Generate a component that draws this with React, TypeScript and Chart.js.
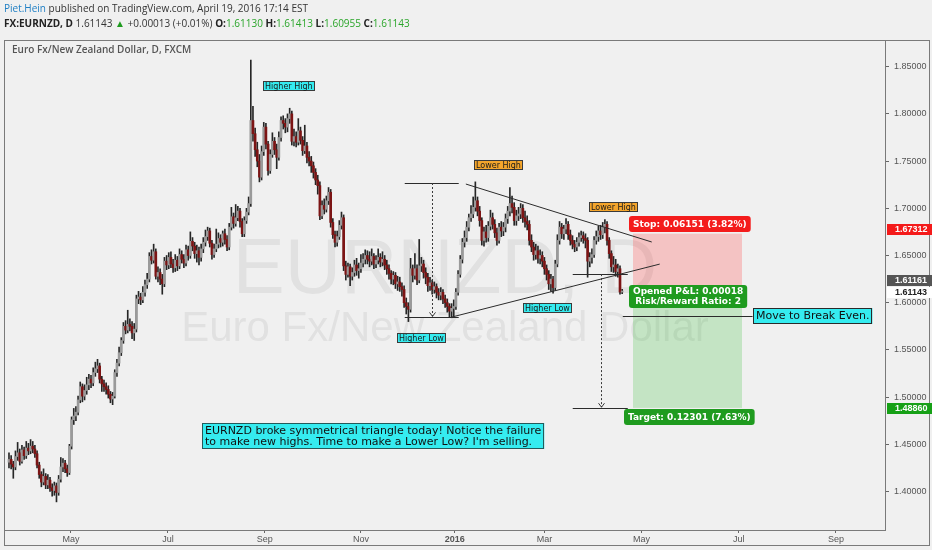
import React, { useEffect, useRef } from 'react';
import { Chart, registerables } from 'chart.js';

Chart.register(...registerables);

// ---- Daily EUR/NZD candles (index 0 = late Mar 2015 ... index 284 = Apr 19 2016) ----
const firstOpen = 1.431;
const closes = [
  1.434, 1.429, 1.426, 1.437, 1.441, 1.432, 1.444, 1.438, 1.446, 1.443,
  1.448, 1.445, 1.440, 1.428, 1.418, 1.410, 1.416, 1.407, 1.412, 1.404,
  1.401, 1.406, 1.399, 1.413, 1.426, 1.430, 1.424, 1.420, 1.448, 1.476,
  1.480, 1.484, 1.497, 1.511, 1.501, 1.507, 1.513, 1.519, 1.515, 1.526,
  1.530, 1.533, 1.519, 1.514, 1.511, 1.508, 1.503, 1.498, 1.501, 1.526,
  1.536, 1.547, 1.560, 1.575, 1.571, 1.577, 1.575, 1.568, 1.572, 1.604,
  1.606, 1.603, 1.611, 1.619, 1.625, 1.649, 1.645, 1.654, 1.628, 1.632,
  1.625, 1.620, 1.644, 1.640, 1.648, 1.641, 1.637, 1.645, 1.639, 1.651,
  1.646, 1.642, 1.656, 1.650, 1.665, 1.660, 1.652, 1.655, 1.648, 1.657,
  1.664, 1.670, 1.676, 1.663, 1.651, 1.657, 1.662, 1.668, 1.664, 1.673,
  1.667, 1.659, 1.680, 1.691, 1.684, 1.690, 1.697, 1.686, 1.673, 1.687,
  1.696, 1.705, 1.793, 1.779, 1.762, 1.750, 1.733, 1.760, 1.786, 1.768,
  1.740, 1.757, 1.771, 1.762, 1.754, 1.775, 1.793, 1.790, 1.786, 1.795,
  1.800, 1.771, 1.776, 1.770, 1.782, 1.772, 1.761, 1.766, 1.754, 1.750,
  1.745, 1.738, 1.730, 1.724, 1.692, 1.703, 1.699, 1.708, 1.717, 1.685,
  1.672, 1.664, 1.670, 1.682, 1.690, 1.639, 1.630, 1.638, 1.628, 1.632,
  1.640, 1.634, 1.636, 1.642, 1.646, 1.650, 1.646, 1.644, 1.649, 1.641,
  1.645, 1.648, 1.643, 1.646, 1.640, 1.636, 1.631, 1.625, 1.629, 1.620,
  1.622, 1.617, 1.614, 1.600, 1.596, 1.593, 1.636, 1.629, 1.636, 1.624,
  1.639, 1.641, 1.632, 1.627, 1.618, 1.621, 1.614, 1.617, 1.611, 1.608,
  1.611, 1.604, 1.600, 1.596, 1.591, 1.594, 1.596, 1.611, 1.630, 1.646,
  1.664, 1.669, 1.680, 1.690, 1.694, 1.701, 1.708, 1.697, 1.687, 1.666,
  1.675, 1.669, 1.681, 1.690, 1.683, 1.674, 1.666, 1.680, 1.676, 1.680,
  1.689, 1.697, 1.705, 1.701, 1.687, 1.692, 1.694, 1.700, 1.690, 1.686,
  1.683, 1.666, 1.659, 1.651, 1.655, 1.647, 1.650, 1.644, 1.636, 1.630,
  1.620, 1.625, 1.616, 1.641, 1.666, 1.680, 1.673, 1.678, 1.683, 1.672,
  1.666, 1.662, 1.659, 1.664, 1.669, 1.671, 1.668, 1.666, 1.644, 1.648,
  1.651, 1.666, 1.670, 1.676, 1.672, 1.680, 1.683, 1.666, 1.652, 1.638,
  1.640, 1.633, 1.636, 1.6113, 1.6114,
];
const highs = [
  1.441, 1.438, 1.432, 1.443, 1.452, 1.445, 1.449, 1.447, 1.453, 1.451,
  1.455, 1.453, 1.449, 1.443, 1.431, 1.421, 1.424, 1.419, 1.418, 1.415,
  1.408, 1.410, 1.409, 1.417, 1.436, 1.435, 1.433, 1.428, 1.450, 1.479,
  1.488, 1.490, 1.501, 1.516, 1.514, 1.513, 1.521, 1.524, 1.523, 1.531,
  1.537, 1.540, 1.536, 1.522, 1.518, 1.515, 1.512, 1.506, 1.505, 1.529,
  1.540, 1.553, 1.563, 1.579, 1.581, 1.592, 1.583, 1.580, 1.578, 1.608,
  1.612, 1.610, 1.617, 1.624, 1.631, 1.653, 1.656, 1.662, 1.657, 1.638,
  1.636, 1.630, 1.648, 1.650, 1.653, 1.654, 1.646, 1.651, 1.649, 1.657,
  1.655, 1.651, 1.661, 1.660, 1.675, 1.669, 1.664, 1.661, 1.659, 1.662,
  1.669, 1.677, 1.680, 1.679, 1.666, 1.662, 1.678, 1.674, 1.672, 1.676,
  1.678, 1.671, 1.684, 1.701, 1.695, 1.704, 1.702, 1.700, 1.689, 1.691,
  1.700, 1.712, 1.857, 1.808, 1.785, 1.770, 1.757, 1.766, 1.791, 1.790,
  1.771, 1.762, 1.780, 1.775, 1.768, 1.781, 1.797, 1.798, 1.795, 1.800,
  1.806, 1.803, 1.784, 1.781, 1.795, 1.786, 1.776, 1.788, 1.770, 1.760,
  1.755, 1.749, 1.742, 1.735, 1.728, 1.708, 1.710, 1.713, 1.722, 1.720,
  1.689, 1.676, 1.676, 1.687, 1.696, 1.693, 1.644, 1.642, 1.641, 1.637,
  1.645, 1.647, 1.642, 1.651, 1.652, 1.656, 1.655, 1.654, 1.657, 1.652,
  1.650, 1.657, 1.652, 1.654, 1.650, 1.645, 1.640, 1.634, 1.633, 1.632,
  1.628, 1.627, 1.621, 1.618, 1.605, 1.600, 1.647, 1.640, 1.652, 1.640,
  1.667, 1.648, 1.645, 1.637, 1.631, 1.627, 1.624, 1.622, 1.620, 1.615,
  1.616, 1.614, 1.608, 1.604, 1.599, 1.599, 1.603, 1.615, 1.634, 1.650,
  1.668, 1.676, 1.686, 1.694, 1.703, 1.712, 1.728, 1.712, 1.702, 1.690,
  1.680, 1.682, 1.686, 1.698, 1.695, 1.688, 1.679, 1.684, 1.686, 1.685,
  1.694, 1.702, 1.722, 1.713, 1.706, 1.698, 1.701, 1.705, 1.704, 1.697,
  1.692, 1.687, 1.672, 1.664, 1.662, 1.660, 1.656, 1.654, 1.648, 1.640,
  1.634, 1.630, 1.628, 1.645, 1.672, 1.686, 1.684, 1.682, 1.689, 1.686,
  1.677, 1.671, 1.666, 1.669, 1.674, 1.676, 1.675, 1.673, 1.669, 1.653,
  1.657, 1.670, 1.676, 1.681, 1.682, 1.685, 1.688, 1.686, 1.669, 1.655,
  1.649, 1.646, 1.641, 1.639, 1.6141,
];
const lows = [
  1.425, 1.424, 1.414, 1.423, 1.433, 1.428, 1.430, 1.434, 1.435, 1.439,
  1.440, 1.441, 1.436, 1.425, 1.414, 1.405, 1.407, 1.403, 1.403, 1.400,
  1.395, 1.396, 1.389, 1.396, 1.410, 1.421, 1.420, 1.416, 1.418, 1.445,
  1.471, 1.475, 1.481, 1.494, 1.495, 1.497, 1.503, 1.508, 1.510, 1.512,
  1.522, 1.526, 1.515, 1.506, 1.506, 1.503, 1.499, 1.494, 1.492, 1.499,
  1.522, 1.533, 1.544, 1.557, 1.567, 1.568, 1.570, 1.562, 1.560, 1.569,
  1.599, 1.598, 1.600, 1.607, 1.615, 1.622, 1.641, 1.642, 1.625, 1.622,
  1.619, 1.609, 1.617, 1.635, 1.636, 1.637, 1.632, 1.633, 1.634, 1.636,
  1.642, 1.637, 1.639, 1.645, 1.647, 1.655, 1.647, 1.643, 1.640, 1.644,
  1.653, 1.660, 1.666, 1.659, 1.646, 1.648, 1.654, 1.658, 1.659, 1.660,
  1.662, 1.655, 1.656, 1.677, 1.679, 1.681, 1.687, 1.680, 1.670, 1.670,
  1.684, 1.693, 1.702, 1.771, 1.755, 1.744, 1.728, 1.730, 1.756, 1.763,
  1.735, 1.737, 1.754, 1.757, 1.742, 1.751, 1.771, 1.784, 1.780, 1.781,
  1.790, 1.767, 1.766, 1.765, 1.767, 1.768, 1.756, 1.758, 1.748, 1.745,
  1.738, 1.732, 1.725, 1.715, 1.688, 1.689, 1.694, 1.696, 1.704, 1.680,
  1.668, 1.659, 1.660, 1.667, 1.678, 1.634, 1.624, 1.627, 1.618, 1.624,
  1.628, 1.629, 1.626, 1.632, 1.638, 1.641, 1.641, 1.638, 1.640, 1.636,
  1.637, 1.641, 1.638, 1.639, 1.635, 1.630, 1.625, 1.620, 1.619, 1.615,
  1.613, 1.612, 1.607, 1.595, 1.588, 1.580, 1.590, 1.622, 1.625, 1.619,
  1.621, 1.633, 1.626, 1.620, 1.612, 1.613, 1.609, 1.610, 1.605, 1.603,
  1.603, 1.599, 1.595, 1.590, 1.585, 1.584, 1.585, 1.593, 1.608, 1.627,
  1.642, 1.659, 1.665, 1.676, 1.686, 1.690, 1.697, 1.692, 1.681, 1.661,
  1.660, 1.664, 1.665, 1.677, 1.678, 1.669, 1.661, 1.663, 1.670, 1.671,
  1.675, 1.684, 1.692, 1.695, 1.682, 1.682, 1.687, 1.689, 1.685, 1.680,
  1.677, 1.661, 1.654, 1.645, 1.646, 1.642, 1.641, 1.638, 1.630, 1.624,
  1.614, 1.612, 1.610, 1.613, 1.638, 1.662, 1.668, 1.667, 1.673, 1.667,
  1.661, 1.657, 1.654, 1.655, 1.660, 1.665, 1.663, 1.658, 1.627, 1.638,
  1.642, 1.648, 1.662, 1.665, 1.667, 1.668, 1.674, 1.661, 1.647, 1.633,
  1.632, 1.628, 1.627, 1.609, 1.6096,
];

// ---- axes ----
const monthTickPos = [28.7, 73.6, 118.5, 163, 206.5, 248, 293, 338, 383];
const monthTickLabels = ['May', 'Jul', 'Sep', 'Nov', '2016', 'Mar', 'May', 'Jul', 'Sep'];
const priceTicks = [1.4, 1.45, 1.5, 1.55, 1.6, 1.65, 1.7, 1.75, 1.8, 1.85];

// ---- trade levels ----
const entryPrice = 1.61161;
const stopPrice = 1.67312;
const targetPrice = 1.4886;
const lastPrice = 1.61143;
const breakEvenPrice = 1.586;
const riskSpan = [288.9, 339.4];

// ---- drawings (bar index, price) ----
const trendLines = [
  [211.6, 1.7257, 297.7, 1.6643],
  [205.1, 1.5848, 301.4, 1.6409],
  [183.3, 1.7268, 208.3, 1.7268],
  [183.3, 1.5848, 208.3, 1.5848],
  [261.1, 1.6303, 286.6, 1.6303],
  [261.1, 1.4886, 286.6, 1.4886],
  [284.3, 1.586, 344.4, 1.586],
];
const dashedArrows = [
  [195.8, 1.7268, 1.5855],
  [274.1, 1.6303, 1.4893],
];
const tagLabels = [
  { text: 'Higher High', x: 129.4, y: 1.8296, kind: 'cyan' },
  { text: 'Lower High', x: 226.5, y: 1.7459, kind: 'orange' },
  { text: 'Lower High', x: 280.1, y: 1.7014, kind: 'orange' },
  { text: 'Higher Low', x: 191.0, y: 1.5627, kind: 'cyan' },
  { text: 'Higher Low', x: 249.5, y: 1.5943, kind: 'cyan' },
];
const commentLines = [
  'EURNZD broke symmetrical triangle today! Notice the failure',
  "to make new highs. Time to make a Lower Low? I'm selling.",
];
const commentAnchor = { x: 168.5, y: 1.4588 };
const breakEvenText = 'Move to Break Even.';
const stopText = 'Stop: 0.06151 (3.82%)';
const pnlLines = ['Opened P&L: 0.00018', 'Risk/Reward Ratio: 2'];
const targetText = 'Target: 0.12301 (7.63%)';
const stopLabelAt = { x: 315.3, y: 1.6834 };
const pnlLabelAt = { x: 314.4, y: 1.6066 };
const targetLabelAt = { x: 315.0, y: 1.479 };

const UP = '#9a9a9a';
const DOWN = '#7c1414';
const CYAN = '#35ecf0';
const ORANGE = '#f4a52c';
const GREEN = '#1f9b1f';
const RED = '#f41c1c';
const BG = '#f0f0f0';

function roundRect(ctx: CanvasRenderingContext2D, x: number, y: number, w: number, h: number, r: number) {
  ctx.beginPath();
  ctx.moveTo(x + r, y);
  ctx.lineTo(x + w - r, y);
  ctx.quadraticCurveTo(x + w, y, x + w, y + r);
  ctx.lineTo(x + w, y + h - r);
  ctx.quadraticCurveTo(x + w, y + h, x + w - r, y + h);
  ctx.lineTo(x + r, y + h);
  ctx.quadraticCurveTo(x, y + h, x, y + h - r);
  ctx.lineTo(x, y + r);
  ctx.quadraticCurveTo(x, y, x + r, y);
  ctx.closePath();
}

function drawBox(
  ctx: CanvasRenderingContext2D,
  lines: string[],
  cx: number,
  cy: number,
  o: { font: string; bg: string; fg: string; border?: string; padX: number; lineH: number; padY: number; radius?: number; leftAnchor?: boolean; align?: CanvasTextAlign }
) {
  ctx.font = o.font;
  const w = Math.max(...lines.map((l) => ctx.measureText(l).width)) + o.padX * 2;
  const h = lines.length * o.lineH + o.padY * 2;
  const x = Math.round(o.leftAnchor ? cx : cx - w / 2);
  const y = Math.round(cy - h / 2);
  ctx.fillStyle = o.bg;
  if (o.radius) {
    roundRect(ctx, x, y, w, h, o.radius);
    ctx.fill();
  } else {
    ctx.fillRect(x, y, w, h);
  }
  if (o.border) {
    ctx.strokeStyle = o.border;
    ctx.lineWidth = 1;
    ctx.strokeRect(x + 0.5, y + 0.5, Math.round(w) - 1, h - 1);
  }
  ctx.fillStyle = o.fg;
  ctx.textBaseline = 'middle';
  const align = o.align || 'center';
  ctx.textAlign = align;
  lines.forEach((l, i) => {
    const ty = y + o.padY + o.lineH * (i + 0.5) + 0.5;
    const tx = align === 'left' ? x + o.padX : x + w / 2;
    ctx.fillText(l, tx, ty);
  });
}

const drawingsPlugin = {
  id: 'drawings',
  beforeDatasetsDraw(chart: any) {
    const { ctx, chartArea: a, scales } = chart;
    const xs = scales.x;
    const ys = scales.y;
    ctx.save();
    ctx.beginPath();
    ctx.rect(a.left, a.top, a.right - a.left, a.bottom - a.top);
    ctx.clip();
    const cx = (a.left + a.right) / 2;
    const cy = (a.top + a.bottom) / 2;
    ctx.fillStyle = 'rgba(0,0,0,0.062)';
    ctx.textAlign = 'center';
    ctx.textBaseline = 'middle';
    ctx.font = '78px "Liberation Sans"';
    ctx.fillText('EURNZD, D', cx, cy - 14);
    ctx.font = '42px "Liberation Sans"';
    ctx.fillText('Euro Fx/New Zealand Dollar', cx, cy + 44);

    const x1 = Math.round(xs.getPixelForValue(riskSpan[0]));
    const x2 = Math.round(xs.getPixelForValue(riskSpan[1]));
    const yStop = ys.getPixelForValue(stopPrice);
    const yEntry = ys.getPixelForValue(entryPrice);
    const yTarget = ys.getPixelForValue(targetPrice);
    ctx.fillStyle = 'rgba(255,60,60,0.25)';
    ctx.fillRect(x1, yStop, x2 - x1, yEntry - yStop);
    ctx.fillStyle = 'rgba(64,192,64,0.25)';
    ctx.fillRect(x1, yEntry, x2 - x1, yTarget - yEntry);
    ctx.restore();
  },
  afterDatasetsDraw(chart: any) {
    const { ctx, chartArea: a, scales, width, height } = chart;
    const xs = scales.x;
    const ys = scales.y;
    const X = (v: number) => xs.getPixelForValue(v);
    const Y = (v: number) => ys.getPixelForValue(v);
    ctx.save();
    ctx.beginPath();
    ctx.rect(a.left, a.top, a.right - a.left, a.bottom - a.top);
    ctx.clip();

    ctx.strokeStyle = '#2b2b2b';
    ctx.lineWidth = 1;
    trendLines.forEach(([i1, p1, i2, p2]) => {
      ctx.beginPath();
      const flat = p1 === p2;
      const yy1 = flat ? Math.round(Y(p1)) + 0.5 : Y(p1);
      const yy2 = flat ? Math.round(Y(p2)) + 0.5 : Y(p2);
      ctx.moveTo(X(i1), yy1);
      ctx.lineTo(X(i2), yy2);
      ctx.stroke();
    });

    ctx.strokeStyle = '#3a3a3a';
    dashedArrows.forEach(([i, pTop, pBot]) => {
      const x = Math.round(X(i)) + 0.5;
      const yt = Y(pTop);
      const yb = Y(pBot);
      ctx.setLineDash([2, 2]);
      ctx.beginPath();
      ctx.moveTo(x, yt);
      ctx.lineTo(x, yb);
      ctx.stroke();
      ctx.setLineDash([]);
      ctx.beginPath();
      ctx.moveTo(x - 3, yb - 4);
      ctx.lineTo(x, yb);
      ctx.lineTo(x + 3, yb - 4);
      ctx.stroke();
    });

    tagLabels.forEach((t) => {
      drawBox(ctx, [t.text], X(t.x), Y(t.y), {
        font: '8px "DejaVu Sans"',
        bg: t.kind === 'cyan' ? CYAN : ORANGE,
        fg: '#1a1a1a',
        border: '#3a3a3a',
        padX: 2,
        lineH: 10,
        padY: 0,
      });
    });

    drawBox(ctx, commentLines, X(commentAnchor.x), Y(commentAnchor.y), {
      font: '11px "DejaVu Sans"',
      bg: CYAN,
      fg: '#111',
      border: '#245a5a',
      padX: 3,
      lineH: 11.5,
      padY: 1.5,
      align: 'left',
    });

    drawBox(ctx, [breakEvenText], X(riskSpan[1]) + 11, Y(breakEvenPrice), {
      font: '11px "DejaVu Sans"',
      bg: CYAN,
      fg: '#111',
      border: '#2a2a2a',
      padX: 3,
      lineH: 14,
      padY: 1,
      leftAnchor: true,
    });

    drawBox(ctx, [stopText], X(stopLabelAt.x), Y(stopLabelAt.y), {
      font: 'bold 9px "DejaVu Sans"',
      bg: RED,
      fg: '#ffffff',
      padX: 4,
      lineH: 16,
      padY: 0,
      radius: 3,
    });
    drawBox(ctx, pnlLines, X(pnlLabelAt.x), Y(pnlLabelAt.y), {
      font: 'bold 9px "DejaVu Sans"',
      bg: GREEN,
      fg: '#ffffff',
      padX: 4,
      lineH: 10,
      padY: 1.5,
      radius: 3,
    });
    drawBox(ctx, [targetText], X(targetLabelAt.x), Y(targetLabelAt.y), {
      font: 'bold 9px "DejaVu Sans"',
      bg: GREEN,
      fg: '#ffffff',
      padX: 4,
      lineH: 16,
      padY: 0,
      radius: 3,
    });
    ctx.restore();

    // frames
    ctx.save();
    ctx.strokeStyle = '#7a7a7a';
    ctx.lineWidth = 1;
    ctx.strokeRect(a.left + 0.5, a.top + 0.5, a.right - a.left - 1, a.bottom - a.top);
    ctx.strokeRect(a.left + 0.5, a.top + 0.5, width - 2 - a.left - 1, height - 5 - a.top);

    // price tags on the axis
    const tag = (p: number, bg: string, fg: string, dy: number) => {
      const y = Math.round(Y(p) + dy);
      ctx.fillStyle = bg;
      ctx.fillRect(a.right + 1, y - 5, width - a.right - 1, 11);
      ctx.fillStyle = fg;
      ctx.font = 'bold 9px "Liberation Sans"';
      ctx.textAlign = 'left';
      ctx.textBaseline = 'middle';
      ctx.fillText(p.toFixed(5), a.right + 9, y + 0.5);
    };
    tag(stopPrice, '#f41a1a', '#ffffff', -5);
    tag(entryPrice, '#555555', '#ffffff', -12);
    tag(lastPrice, '#ffffff', '#222222', 0);
    tag(targetPrice, '#16a016', '#ffffff', 0);
    ctx.restore();
  },
};

export default function App() {
  const ref = useRef<HTMLCanvasElement>(null);

  useEffect(() => {
    document.body.style.margin = '0';
    const canvas = ref.current;
    if (!canvas) return;
    const opens = closes.map((c, i) => (i === 0 ? firstOpen : closes[i - 1]));
    const bodies = closes.map((c, i) => ({ x: i, y: [opens[i], c] }));
    const wicks = closes.map((c, i) => ({ x: i, y: [lows[i], highs[i]] }));
    const bodyColors = closes.map((c, i) => (c >= opens[i] ? UP : DOWN));

    const chart = new Chart(canvas, {
      type: 'bar',
      data: {
        datasets: [
          {
            data: bodies as any,
            backgroundColor: bodyColors,
            borderWidth: 0,
            barThickness: 2,
            minBarLength: 1,
            grouped: false,
          } as any,
          {
            data: wicks as any,
            backgroundColor: '#262626',
            borderWidth: 0,
            barThickness: 1,
            grouped: false,
          } as any,
        ],
      },
      options: {
        animation: false,
        responsive: false,
        devicePixelRatio: 1,
        layout: { padding: { left: 4, top: 40, right: 0, bottom: 5 } },
        plugins: { legend: { display: false }, tooltip: { enabled: false }, title: { display: false } },
        events: [],
        scales: {
          x: {
            type: 'linear',
            min: -2.31,
            max: 406.2,
            offset: false,
            border: { display: false },
            grid: { drawOnChartArea: false, drawTicks: true, tickLength: 3, color: '#666', offset: false },
            afterBuildTicks: (scale: any) => {
              scale.ticks = monthTickPos.map((v) => ({ value: v }));
            },
            afterFit: (scale: any) => {
              scale.height = 15;
            },
            ticks: {
              autoSkip: false,
              maxRotation: 0,
              padding: 1,
              color: '#555',
              font: (c: any) => ({
                family: '"Liberation Sans"',
                size: 9,
                weight: c.tick && c.tick.label === '2016' ? 'bold' : 'normal',
              }),
              callback: (v: any) => {
                const k = monthTickPos.indexOf(Number(v));
                return k >= 0 ? monthTickLabels[k] : '';
              },
            },
          },
          y: {
            type: 'linear',
            position: 'right',
            min: 1.35922,
            max: 1.87828,
            border: { display: false },
            grid: { drawOnChartArea: false, drawTicks: true, tickLength: 3, color: '#666' },
            afterBuildTicks: (scale: any) => {
              scale.ticks = priceTicks.map((v) => ({ value: v }));
            },
            afterFit: (scale: any) => {
              scale.width = 46;
            },
            ticks: {
              padding: 5,
              color: '#555',
              font: { family: '"Liberation Sans"', size: 9 },
              callback: (v: any) => Number(v).toFixed(5),
            },
          },
        },
      },
      plugins: [drawingsPlugin],
    } as any);
    return () => chart.destroy();
  }, []);

  const green = { color: '#2aa52a' };
  const b = { fontWeight: 700 as const, color: '#222' };
  return (
    <div style={{ position: 'relative', width: 932, height: 550, background: BG, overflow: 'hidden' }}>
      <canvas ref={ref} width={932} height={550} style={{ position: 'absolute', left: 0, top: 0 }} />
      <div style={{ position: 'absolute', left: 4, top: 1, font: '10px "Open Sans"', lineHeight: '15px', color: '#333', whiteSpace: 'nowrap' }}>
        <div>
          <span style={{ color: '#1f7fc4' }}>Piet.Hein</span> published on TradingView.com, April 19, 2016 17:14 EST
        </div>
        <div>
          <span style={b}>FX:EURNZD, D</span> 1.61143 <span style={{ color: '#1f9b1f' }}>▲</span> +0.00013 (+0.01%){' '}
          <span style={b}>O:</span><span style={green}>1.61130</span> <span style={b}>H:</span><span style={green}>1.61413</span>{' '}
          <span style={b}>L:</span><span style={green}>1.60955</span> <span style={b}>C:</span><span style={green}>1.61143</span>
        </div>
      </div>
      <div style={{ position: 'absolute', left: 12, top: 42, font: '600 10px "Open Sans"', color: '#555', whiteSpace: 'nowrap' }}>
        Euro Fx/New Zealand Dollar, D, FXCM
      </div>
    </div>
  );
}
